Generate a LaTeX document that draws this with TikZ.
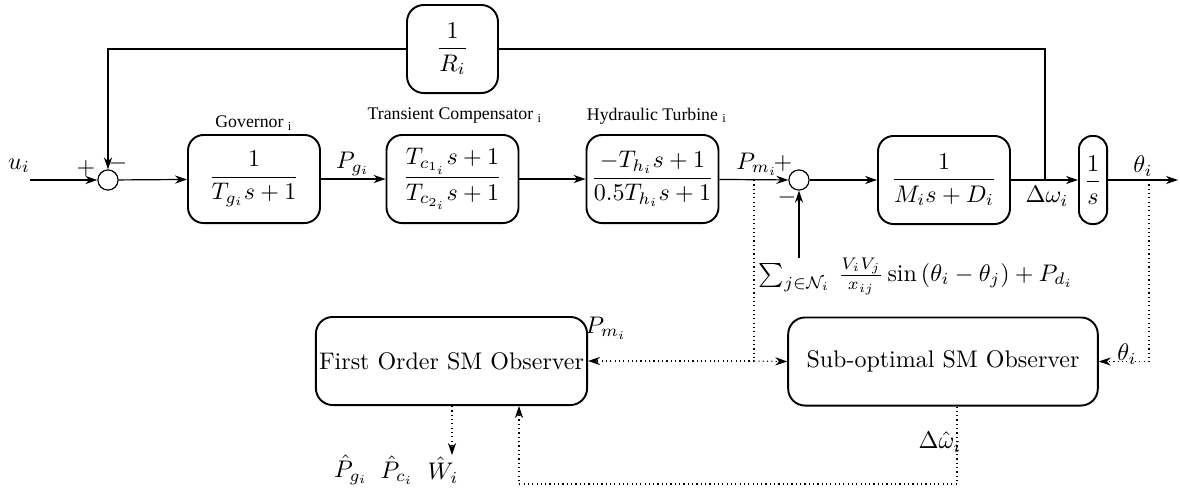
\documentclass[tikz,border=0pt]{standalone}
\usepackage{amsmath}
\usepackage{fontspec}
\newfontfamily\labelfont{Liberation Serif}
\usetikzlibrary{arrows.meta}

\begin{document}
\begin{tikzpicture}[x=0.41667pt,y=-0.41667pt,
  blk/.style={draw, line width=0.8pt, rounded corners=6.5pt, minimum width=55pt,
              minimum height=36.7pt, inner sep=0pt, align=center},
  sumpt/.style={draw, circle, line width=0.5pt, minimum size=8.4pt, inner sep=0pt},
  tip/.style={-{Stealth[length=5pt,width=3.4pt,inset=1.6pt]}},
  sig/.style={line width=0.5pt, tip},
  wire/.style={line width=0.45pt},
  obs/.style={line width=0.45pt, dash pattern=on 0.5pt off 1.3pt},
  ttl/.style={font=\labelfont\fontsize{7.4}{9}\selectfont},
  lbl/.style={inner sep=0pt}]
\useasboundingbox (0,0) rectangle (1180,490);

% plant blocks
\node[sumpt] (s1) at (108,180) {};
\node[blk] (gov) at (254,179) {$\dfrac{1}{T_{g_i}s+1}$};
\node[blk] (tc) at (452.5,179) {$\dfrac{T_{c_{1_i}}s+1}{T_{c_{2_i}}s+1}$};
\node[blk] (ht) at (652.5,179) {$\dfrac{-T_{h_i}s+1}{0.5T_{h_i}s+1}$};
\node[sumpt] (s2) at (799,180) {};
\node[blk] (sw) at (944,180) {$\dfrac{1}{M_is+D_i}$};
\node[blk, minimum width=11.7pt, rounded corners=5.5pt] (int) at (1093,180) {$\dfrac{1}{s}$};
\node[blk, minimum width=37.9pt, rounded corners=7pt] (R) at (452.5,49) {$\dfrac{1}{R_i}$};

% observers
\node[blk, minimum width=113pt, rounded corners=7pt] (fo) at (451.5,361) {First Order SM Observer};
\node[blk, minimum width=129pt, rounded corners=7pt] (so) at (943,361.5) {Sub-optimal SM Observer};

% block titles
\node[ttl] (tgov) at (254,123) {Governor \textsubscript{i}};
\node[ttl] (ttc) at (455,116) {Transient Compensator \textsubscript{i}};
\node[ttl] (tht) at (657,116) {Hydraulic Turbine \textsubscript{i}};

% junction points
\coordinate (uin) at (30,180);
\coordinate (out) at (1178,180);
\coordinate (wtap) at (1045,180);
\coordinate (wtop) at (1045,49);
\coordinate (ftop) at (108,49);
\coordinate (pm) at (754,180);
\coordinate (pmd) at (754,361);
\coordinate (th) at (1149,180);
\coordinate (thd) at (1149,361.5);
\coordinate (dist) at (799,258);
\coordinate (wd) at (957,484);
\coordinate (wl) at (519,484);
\coordinate (est) at (452,455);

% signal path
\draw[sig] (uin) -- (s1);
\draw[sig] (s1) -- (gov);
\draw[sig] (gov) -- (tc);
\draw[sig] (tc) -- (ht);
\draw[sig] (ht) -- (s2);
\draw[sig] (s2) -- (sw);
\draw[sig] (sw) -- (int);
\draw[sig] (int) -- (out);
\draw[wire] (wtap) -- (wtop) -- (R.east);
\draw[wire, tip] (R.west) -- (ftop) -- (s1);
\draw[sig] (dist) -- (s2);

% measurement paths to the observers
\draw[obs] (pm) -- (pmd);
\draw[obs, tip] (pmd) -- (fo.east);
\draw[obs, tip] (pmd) -- (so.west);
\draw[obs, tip] (th) -- (thd) -- (so.east);
\draw[obs, tip] (so.south -| wd) -- (wd) -- (wl) -- (fo.south -| wl);
\draw[obs, tip] (fo.south -| est) -- (est);

% signal labels
\node[lbl] (lu) at (19,166) {$u_i$};
\node[lbl] (lp1) at (86,168) {$+$};
\node[lbl] (lm1) at (118,163) {$-$};
\node[lbl] (lpg) at (353,164) {$P_{g_i}$};
\node[lbl] (lpm) at (757,164) {$P_{m_i}$};
\node[lbl] (lp2) at (783,163) {$+$};
\node[lbl] (lm2) at (787,197) {$-$};
\node[lbl] (lw) at (1047,196) {$\Delta\omega_i$};
\node[lbl] (lth) at (1143,166) {$\theta_i$};
\node[lbl] (ld) at (916,276) {$\sum_{j\in\mathcal{N}_i}\,\frac{V_iV_j}{x_{ij}}\sin\left(\theta_i-\theta_j\right)+P_{d_i}$};
\node[lbl] (lpm2) at (606,328) {$P_{m_i}$};
\node[lbl] (lth2) at (1127,354) {$\theta_i$};
\node[lbl] (lwh) at (940,442) {$\Delta\hat{\omega}_i$};
\node[lbl] (lpgh) at (351,470) {$\hat{P}_{g_i}$};
\node[lbl] (lpch) at (397,470) {$\hat{P}_{c_i}$};
\node[lbl] (lwhh) at (443,470) {$\hat{W}_i$};
\end{tikzpicture}
\end{document}
